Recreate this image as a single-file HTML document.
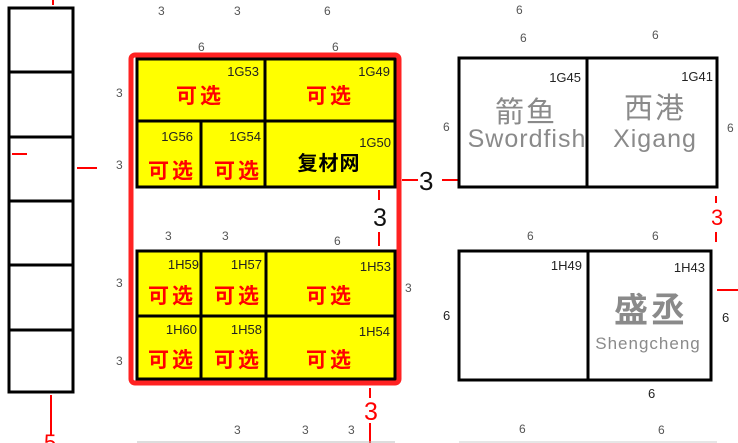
<!DOCTYPE html>
<html><head><meta charset="utf-8"><style>
html,body{margin:0;padding:0;background:#fff;}
svg{display:block;}
.n{font-family:"Liberation Sans","Noto Sans CJK SC",sans-serif;font-size:13px;fill:#222;}
.d{font-family:"Liberation Sans",sans-serif;font-size:12px;fill:#555;}
.k{font-family:"Liberation Sans","Noto Sans CJK SC",sans-serif;font-size:21px;font-weight:bold;fill:#f00;letter-spacing:3px;}
.b{font-family:"Liberation Sans","Noto Sans CJK SC",sans-serif;font-size:20px;font-weight:bold;fill:#000;letter-spacing:1px;}
.g{font-family:"Liberation Sans","Noto Sans CJK SC",sans-serif;fill:#8a8a8a;}
</style></head><body>
<svg width="738" height="443" viewBox="0 0 738 443" xmlns="http://www.w3.org/2000/svg">
<g fill="none" stroke="#000" stroke-width="3">
<rect x="9" y="8" width="64" height="384"/>
<line x1="9" y1="72" x2="73" y2="72"/><line x1="9" y1="137" x2="73" y2="137"/>
<line x1="9" y1="201" x2="73" y2="201"/><line x1="9" y1="265" x2="73" y2="265"/>
<line x1="9" y1="330" x2="73" y2="330"/>
</g>
<g stroke="#f00" stroke-width="2">
<line x1="53" y1="0" x2="53" y2="5"/>
<line x1="12" y1="154" x2="27" y2="154"/>
<line x1="77" y1="168" x2="97" y2="168"/>
<line x1="51" y1="395" x2="51" y2="435"/>
</g>
<text x="44" y="450" font-family="Liberation Sans" font-size="22" fill="#f00">5</text>
<text class="d" x="158" y="15">3</text><text class="d" x="234" y="15">3</text><text class="d" x="324" y="15">6</text>
<text class="d" x="198" y="51">6</text><text class="d" x="332" y="51">6</text>
<text class="d" x="116" y="97">3</text><text class="d" x="116" y="169">3</text>
<text class="d" x="116" y="287">3</text><text class="d" x="116" y="365">3</text>
<text class="d" x="165" y="240">3</text><text class="d" x="222" y="240">3</text><text class="d" x="334" y="245">6</text>
<text class="d" x="405" y="292">3</text>
<g fill="#ffff00" stroke="#000" stroke-width="3">
<rect x="137" y="59" width="258" height="128"/>
<rect x="137" y="251" width="258" height="128"/>
</g>
<g stroke="#000" stroke-width="3">
<line x1="137" y1="121" x2="395" y2="121"/><line x1="265" y1="59" x2="265" y2="187"/>
<line x1="201" y1="121" x2="201" y2="187"/>
<line x1="137" y1="316" x2="395" y2="316"/>
<line x1="201" y1="251" x2="201" y2="379"/><line x1="266" y1="251" x2="266" y2="379"/>
</g>
<rect x="131" y="55" width="268" height="328" rx="4" fill="none" stroke="#f22" stroke-width="5"/>
<text class="n" x="259" y="76" text-anchor="end">1G53</text>
<text class="n" x="390" y="76" text-anchor="end">1G49</text>
<text class="n" x="193" y="141" text-anchor="end">1G56</text>
<text class="n" x="261" y="141" text-anchor="end">1G54</text>
<text class="n" x="391" y="147" text-anchor="end">1G50</text>
<text class="k" x="200" y="103" text-anchor="middle">可选</text>
<text class="k" x="330" y="103" text-anchor="middle">可选</text>
<text class="k" x="172" y="178" text-anchor="middle">可选</text>
<text class="k" x="238" y="178" text-anchor="middle">可选</text>
<text class="b" x="329" y="170" text-anchor="middle">复材网</text>
<text class="n" x="199" y="269" text-anchor="end">1H59</text>
<text class="n" x="262" y="269" text-anchor="end">1H57</text>
<text class="n" x="391" y="271" text-anchor="end">1H53</text>
<text class="n" x="197" y="334" text-anchor="end">1H60</text>
<text class="n" x="262" y="334" text-anchor="end">1H58</text>
<text class="n" x="390" y="336" text-anchor="end">1H54</text>
<text class="k" x="172" y="303" text-anchor="middle">可选</text>
<text class="k" x="238" y="303" text-anchor="middle">可选</text>
<text class="k" x="330" y="303" text-anchor="middle">可选</text>
<text class="k" x="172" y="367" text-anchor="middle">可选</text>
<text class="k" x="238" y="367" text-anchor="middle">可选</text>
<text class="k" x="330" y="367" text-anchor="middle">可选</text>
<g stroke="#f00" stroke-width="2">
<line x1="379" y1="190" x2="379" y2="200"/><line x1="379" y1="232" x2="379" y2="246"/>
<line x1="402" y1="180" x2="418" y2="180"/><line x1="442" y1="180" x2="458" y2="180"/>
<line x1="370" y1="388" x2="370" y2="398"/><line x1="370" y1="423" x2="370" y2="443"/>
<line x1="716" y1="196" x2="716" y2="203"/><line x1="716" y1="232" x2="716" y2="242"/>
<line x1="717" y1="290" x2="738" y2="290"/>
</g>
<text x="373" y="226" font-family="Liberation Sans" font-size="25" fill="#111">3</text>
<text x="419" y="190" font-family="Liberation Sans" font-size="26" fill="#111">3</text>
<text x="364" y="420" font-family="Liberation Sans" font-size="25" fill="#f00">3</text>
<text x="711" y="225" font-family="Liberation Sans" font-size="22" fill="#f00">3</text>
<text class="d" x="234" y="434">3</text><text class="d" x="302" y="434">3</text><text class="d" x="348" y="434">3</text>
<line x1="137" y1="442" x2="395" y2="442" stroke="#bbb" stroke-width="1"/>
<g fill="none" stroke="#000" stroke-width="3">
<rect x="459" y="58" width="258" height="129"/>
<line x1="587" y1="58" x2="587" y2="187"/>
<rect x="459" y="251" width="252" height="129"/>
<line x1="588" y1="251" x2="588" y2="380"/>
</g>
<text class="d" x="516" y="14">6</text>
<text class="d" x="520" y="42">6</text><text class="d" x="652" y="39">6</text>
<text class="d" x="443" y="131">6</text><text class="d" x="727" y="132">6</text>
<text class="d" x="527" y="240">6</text><text class="d" x="652" y="240">6</text>
<text class="n" x="443" y="320">6</text><text class="n" x="722" y="322">6</text>
<text class="n" x="648" y="398">6</text>
<text class="d" x="519" y="433">6</text><text class="d" x="658" y="434">6</text>
<line x1="459" y1="442" x2="717" y2="442" stroke="#ccc" stroke-width="1"/>
<text class="n" x="581" y="82" text-anchor="end">1G45</text>
<text class="n" x="713" y="81" text-anchor="end">1G41</text>
<text class="n" x="582" y="270" text-anchor="end">1H49</text>
<text class="n" x="705" y="272" text-anchor="end">1H43</text>
<text class="g" x="526" y="122" text-anchor="middle" font-size="29" letter-spacing="2">箭鱼</text>
<text class="g" x="527" y="147" text-anchor="middle" font-size="25" letter-spacing="1">Swordfish</text>
<text class="g" x="655" y="118" text-anchor="middle" font-size="29" letter-spacing="2">西港</text>
<text class="g" x="655" y="147" text-anchor="middle" font-size="25" letter-spacing="1">Xigang</text>
<text class="g" x="651" y="322" text-anchor="middle" font-size="34" font-weight="bold" letter-spacing="3">盛丞</text>
<text class="g" x="648" y="349" text-anchor="middle" font-size="17" letter-spacing="1">Shengcheng</text>
</svg>
</body></html>
